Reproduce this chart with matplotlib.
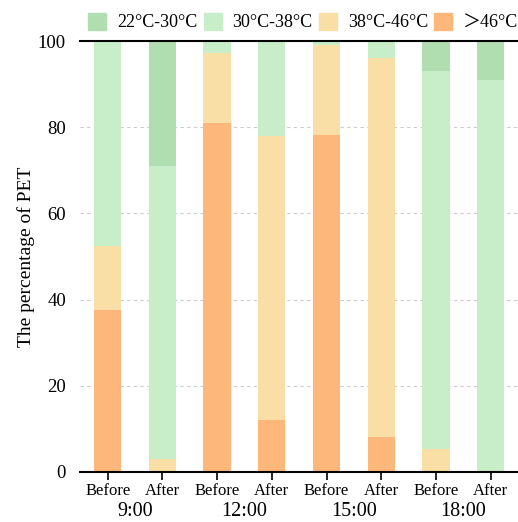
import numpy as np
import matplotlib.pyplot as plt
from matplotlib.patches import Patch

plt.rcParams['font.family'] = ['Liberation Serif', 'Noto Sans CJK SC', 'DejaVu Serif']

groups = ["9:00", "12:00", "15:00", "18:00"]
stages = ["Before", "After"]
ranges = ["22\u00b0C-30\u00b0C", "30\u00b0C-38\u00b0C", "38\u00b0C-46\u00b0C", "\uff1e46\u00b0C"]
colors = ["#b1deb0", "#c8eec9", "#f9dfa6", "#fdb77b"]

# share of each PET range, per bar (Before/After for each hour)
pet_hot  = [37.5, 0.0, 81.0, 12.0, 78.3, 8.0, 0.0, 0.0]
pet_warm = [15.0, 3.0, 16.3, 66.0, 20.8, 88.0, 5.4, 0.0]
pet_mild = [47.5, 68.0, 2.7, 22.0, 0.9, 4.0, 87.6, 91.0]
pet_cool = [0.0, 29.0, 0.0, 0.0, 0.0, 0.0, 7.0, 9.0]

fig = plt.figure(figsize=(5.18, 5.22), dpi=100)
ax = fig.add_axes([0.154, 0.096, 0.846, 0.825])

x = np.arange(len(groups) * len(stages))
bottom = np.zeros(len(x))
for vals, col in zip([pet_hot, pet_warm, pet_mild, pet_cool], colors[::-1]):
    ax.bar(x, vals, width=0.5, bottom=bottom, color=col, zorder=2)
    bottom += np.array(vals)

ax.set_xlim(-0.51, 7.5)
ax.set_ylim(0, 100)
ax.set_yticks([0, 20, 40, 60, 80, 100])
ax.tick_params(axis='y', length=0, labelsize=13.5, pad=10)
for y in [20, 40, 60, 80]:
    ax.axhline(y, color='#cccccc', lw=0.8, ls=(0, (3, 3)), zorder=1)

ax.set_xticks(x)
ax.set_xticklabels([stages[i % 2] for i in x], fontsize=12)
ax.tick_params(axis='x', length=6, width=1.2, pad=2)
for i, g in enumerate(groups):
    ax.text(2 * i + 0.5, -0.093, g, transform=ax.get_xaxis_transform(),
            ha='center', va='center', fontsize=14.5)

for s in ['left', 'right']:
    ax.spines[s].set_visible(False)
ax.spines['bottom'].set_linewidth(1.5)
ax.spines['top'].set_linewidth(1.5)

ax.set_ylabel("The percentage of PET", fontsize=14, labelpad=2)

handles = [Patch(color=c) for c in colors]
fig.legend(handles, ranges, loc='center left', bbox_to_anchor=(0.17, 0.958),
           ncol=4, frameon=False, fontsize=13, handlelength=1.0,
           handleheight=1.1, columnspacing=0.35, handletextpad=0.6,
           borderaxespad=0, borderpad=0)

fig.savefig("out.png", dpi=100)
